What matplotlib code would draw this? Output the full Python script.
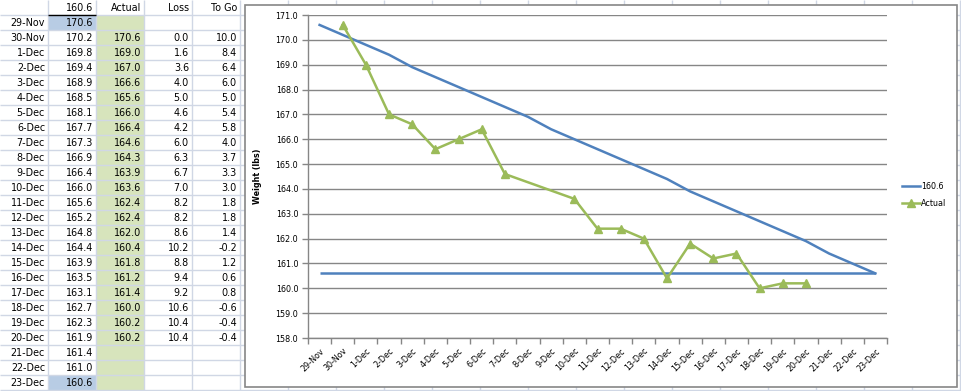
import matplotlib
matplotlib.use("Agg")
import matplotlib.pyplot as plt
from matplotlib.patches import Rectangle
from matplotlib.ticker import FormatStrFormatter, FixedLocator

# spreadsheet data
dates = ['29-Nov', '30-Nov', '1-Dec', '2-Dec', '3-Dec', '4-Dec', '5-Dec', '6-Dec',
         '7-Dec', '8-Dec', '9-Dec', '10-Dec', '11-Dec', '12-Dec', '13-Dec', '14-Dec',
         '15-Dec', '16-Dec', '17-Dec', '18-Dec', '19-Dec', '20-Dec', '21-Dec',
         '22-Dec', '23-Dec']
goal = 160.6
target = [170.6, 170.2, 169.8, 169.4, 168.9, 168.5, 168.1, 167.7, 167.3, 166.9,
          166.4, 166.0, 165.6, 165.2, 164.8, 164.4, 163.9, 163.5, 163.1, 162.7,
          162.3, 161.9, 161.4, 161.0, 160.6]
# Actual / Loss / To Go start on 30-Nov
actual = [170.6, 169.0, 167.0, 166.6, 165.6, 166.0, 166.4, 164.6, 164.3, 163.9,
          163.6, 162.4, 162.4, 162.0, 160.4, 161.8, 161.2, 161.4, 160.0, 160.2, 160.2]
loss = [0.0, 1.6, 3.6, 4.0, 5.0, 4.6, 4.2, 6.0, 6.3, 6.7, 7.0, 8.2, 8.2, 8.6,
        10.2, 8.8, 9.4, 9.2, 10.6, 10.4, 10.4]
to_go = [10.0, 8.4, 6.4, 6.0, 5.0, 5.4, 5.8, 4.0, 3.7, 3.3, 3.0, 1.8, 1.8, 1.4,
         -0.2, 1.2, 0.6, 0.8, -0.6, -0.4, -0.4]
headers = [str(goal), 'Actual', 'Loss', 'To Go']
# days missing from the chart's Actual series
chart_gaps = ['8-Dec', '9-Dec']

W, H = 961, 391
fig = plt.figure(figsize=(W / 100, H / 100), dpi=100)

# ---- sheet in pixel coordinates ----
bg = fig.add_axes([0, 0, 1, 1])
bg.set_xlim(0, W)
bg.set_ylim(H, 0)
bg.axis('off')

col_w, row_h = 48, 15
grid_c = '#d0d7e5'
cell_font = dict(family='DejaVu Sans', fontsize=6.9, color='black')

bg.add_patch(Rectangle((2 * col_w, row_h), col_w, H - row_h, facecolor='#d7e4bc', edgecolor='none'))
for r in (1, len(dates)):
    bg.add_patch(Rectangle((col_w, r * row_h), col_w, row_h, facecolor='#b8cce4', edgecolor='none'))

bg.vlines([col_w * k for k in range(1, 21)], 0, H, color=grid_c, lw=1)
bg.hlines([row_h * k for k in range(1, 27)], 0, W, color=grid_c, lw=1)
bg.hlines(row_h, col_w, 2 * col_w, color='black', lw=1)

def cell(col, row, s):
    bg.text((col + 1) * col_w - 3, row * row_h + row_h / 2 + 0.5, s,
            ha='right', va='center', **cell_font)

for j, h in enumerate(headers):
    cell(j + 1, 0, h)
for i, d in enumerate(dates):
    cell(0, i + 1, d)
    cell(1, i + 1, f'{target[i]:.1f}')
for i in range(len(actual)):
    cell(2, i + 2, f'{actual[i]:.1f}')
    cell(3, i + 2, f'{loss[i]:.1f}')
    cell(4, i + 2, f'{to_go[i]:.1f}')

# chart frame
bg.add_patch(Rectangle((245, 5), 712, 382, facecolor='white', edgecolor='#868686', lw=1.2, zorder=5))

# ---- chart ----
ax = fig.add_axes([308 / W, 1 - 338 / H, (887 - 308) / W, (338 - 15) / H])
ax.set_facecolor('none')

blue, green, gray = '#4f81bd', '#9bbb59', '#868686'
x_all = list(range(len(dates)))
ax.plot(x_all, target, color=blue, lw=1.8, label=str(goal), zorder=3)
ax.hlines(goal, x_all[0], x_all[-1], color=blue, lw=1.8, zorder=3)

ax_x = [dates.index(d) for d in dates[1:1 + len(actual)] if d not in chart_gaps]
ax_y = [v for d, v in zip(dates[1:], actual) if d not in chart_gaps]
ax.plot(ax_x, ax_y, color=green, lw=1.8, marker='^', ms=6, mec=green, mfc=green,
        label='Actual', zorder=4)

ax.set_xlim(-0.5, len(dates) - 0.5)
ax.set_ylim(158, 171)
ax.yaxis.set_major_locator(FixedLocator([158 + k for k in range(14)]))
ax.yaxis.set_major_formatter(FormatStrFormatter('%.1f'))
ax.grid(axis='y', color=gray, lw=1)
ax.set_axisbelow(True)

ax.set_xticks(x_all)
ax.set_xticklabels(dates, rotation=45, ha='right', va='top', rotation_mode='anchor',
                   fontsize=5.8, family='DejaVu Sans')
ax.set_xticks([k - 0.5 for k in range(len(dates) + 1)], minor=True)
ax.tick_params(axis='x', which='major', length=0, pad=6)
ax.tick_params(axis='x', which='minor', length=4, color=gray, width=1)
ax.tick_params(axis='y', length=4, color=gray, width=1, labelsize=5.8, pad=3)
for lab in ax.get_yticklabels():
    lab.set_family('DejaVu Sans')

for s in ('top', 'right'):
    ax.spines[s].set_visible(False)
for s in ('left', 'bottom'):
    ax.spines[s].set_color(gray)
    ax.spines[s].set_linewidth(1)

ax.set_ylabel('Weight (lbs)', fontsize=5.8, fontweight='bold', family='DejaVu Sans')
ax.yaxis.set_label_coords((262 - 308) / (887 - 308), 0.5)

ax.legend(loc='upper left', bbox_to_anchor=(898 / W, 1 - 178 / H), bbox_transform=fig.transFigure,
          frameon=False, fontsize=5.8, handlelength=2.2, handletextpad=0.2, labelspacing=1.0,
          borderpad=0, prop={'family': 'DejaVu Sans', 'size': 5.8})

fig.savefig('out.png', dpi=100)
